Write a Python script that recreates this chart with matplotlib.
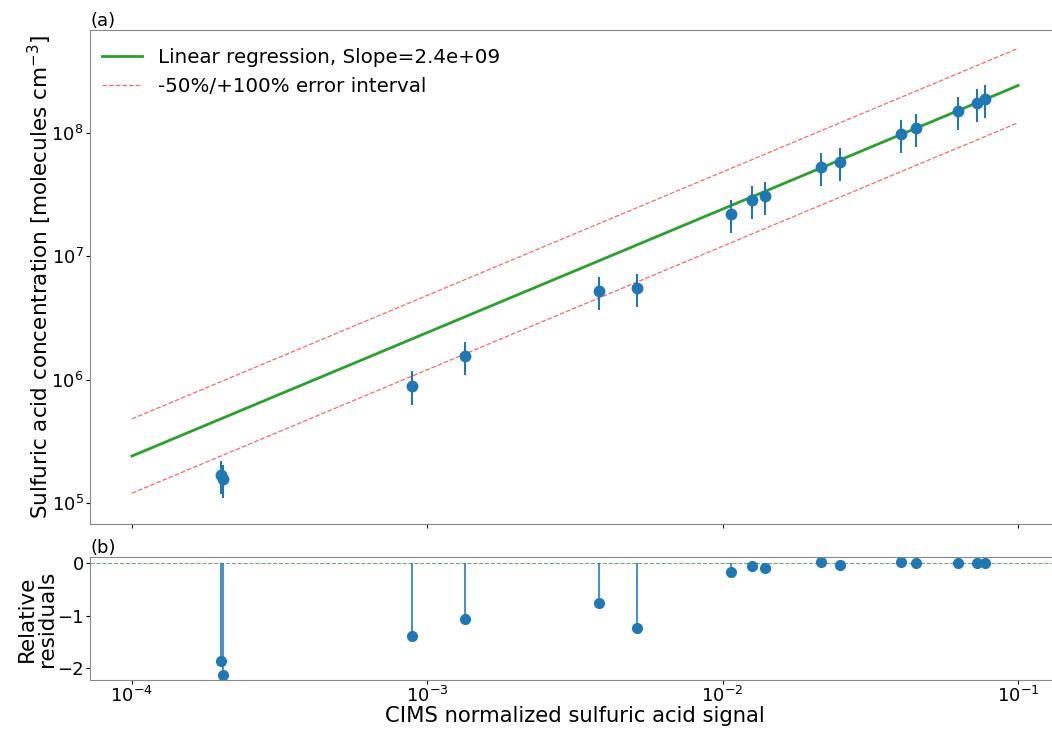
import numpy as np
import matplotlib
matplotlib.use("Agg")
import matplotlib.pyplot as plt
from matplotlib.ticker import NullLocator

# CIMS normalized signal and reference sulfuric acid concentration
signal = [2.0e-4, 2.03e-4, 8.9e-4, 1.34e-3, 3.82e-3, 5.13e-3,
          1.07e-2, 1.26e-2, 1.39e-2, 2.16e-2, 2.49e-2,
          4.0e-2, 4.53e-2, 6.24e-2, 7.26e-2, 7.73e-2]
concentration = [1.68e5, 1.56e5, 8.94e5, 1.56e6, 5.21e6, 5.52e6,
                 2.20e7, 2.85e7, 3.05e7, 5.24e7, 5.75e7,
                 9.70e7, 1.087e8, 1.50e8, 1.74e8, 1.855e8]
rel_uncertainty = 0.3          # relative uncertainty of the concentration
slope = 2.4e9                  # calibration coefficient
fit_range = [1e-4, 1e-1]

x = np.array(signal)
y = np.array(concentration)
yerr = rel_uncertainty * y
xf = np.logspace(np.log10(fit_range[0]), np.log10(fit_range[1]), 50)
yf = slope * xf
residuals = (y - slope * x) / y

fig = plt.figure(figsize=(10.52, 7.29), dpi=100)
W, H = 1052, 729
ax1 = fig.add_axes([90 / W, 1 - 524 / H, (1060 - 90) / W, (524 - 30) / H])
ax2 = fig.add_axes([90 / W, 1 - 680 / H, (1060 - 90) / W, (680 - 557) / H], sharex=ax1)

ax1.plot(xf, yf, color="tab:green", lw=2, label=f"Linear regression, Slope={slope:.1e}")
ax1.plot(xf, 0.5 * yf, color="red", ls="--", lw=0.9, alpha=0.6,
         label="-50%/+100% error interval")
ax1.plot(xf, 2.0 * yf, color="red", ls="--", lw=0.9, alpha=0.6)
ax1.errorbar(x, y, yerr=yerr, fmt="o", color="tab:blue", ms=7.5, elinewidth=1.5)
ax1.set_xscale("log")
ax1.set_yscale("log")
ax1.set_xlim(10 ** -4.142, 10 ** -0.858)
ax1.set_ylim(10 ** 4.83, 10 ** 8.83)
ax1.set_ylabel("Sulfuric acid concentration [molecules cm$^{-3}$]", fontsize=15.5,
               labelpad=-2)
ax1.tick_params(axis="x", labelbottom=False)
ax1.legend(loc="upper left", fontsize=14.3, frameon=False,
           bbox_to_anchor=(-0.006, 1.0))
ax1.set_title("(a)", loc="left", fontsize=13, pad=3)

ax2.axhline(0, color="green", ls="--", lw=0.8, alpha=0.6)
ax2.vlines(x, 0, residuals, color="tab:blue", lw=1.5, alpha=0.8)
ax2.plot(x, residuals, "o", color="tab:blue", ms=7)
ax2.set_ylim(-2.22, 0.114)
ax2.set_yticks([0, -1, -2])
ax2.set_ylabel("Relative\nresiduals", fontsize=15.5, linespacing=1.0, labelpad=0)
ax2.set_title("(b)", loc="left", fontsize=13, pad=3)

for ax in (ax1, ax2):
    ax.tick_params(labelsize=13, length=3, pad=1.5)
    ax.yaxis.set_minor_locator(NullLocator())
    ax.xaxis.set_minor_locator(NullLocator())
    for s in ax.spines.values():
        s.set_color("#888888")

ax2.set_xlabel("CIMS normalized sulfuric acid signal", fontsize=15.2, labelpad=0)

fig.savefig("out.png", dpi=100)
